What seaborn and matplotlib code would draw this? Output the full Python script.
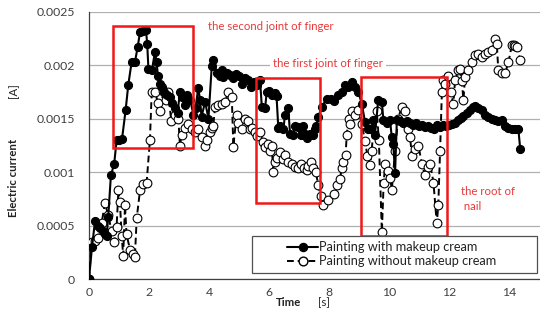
import matplotlib
matplotlib.use("Agg")
import matplotlib.pyplot as plt
import seaborn as sns
import pandas as pd
from matplotlib.patches import Rectangle
from matplotlib.lines import Line2D
from matplotlib.ticker import MultipleLocator

# ---------------- data ----------------
t_with = [0.0, 0.1, 0.2, 0.3, 0.37, 0.45, 0.52, 0.59, 0.64, 0.73, 0.84, 0.92, 1.0, 1.1,
          1.22, 1.31, 1.42, 1.53, 1.62, 1.70, 1.81, 1.90, 1.94, 1.98, 2.10, 2.20, 2.25,
          2.30, 2.37, 2.43, 2.50, 2.60, 2.70, 2.77, 2.87, 2.95, 3.03, 3.10, 3.20, 3.26,
          3.37, 3.48, 3.55, 3.64, 3.70, 3.75, 3.87, 3.98, 4.09, 4.14, 4.26, 4.35, 4.42,
          4.48, 4.60, 4.70, 4.80, 4.90, 5.00, 5.10, 5.20, 5.30, 5.40, 5.50, 5.60, 5.70,
          5.76, 5.87, 5.92, 6.00, 6.10, 6.20, 6.25, 6.31, 6.37, 6.48, 6.53, 6.64, 6.70,
          6.80, 6.87, 6.95, 7.05, 7.12, 7.20, 7.28, 7.35, 7.45, 7.52, 7.58, 7.64, 7.76,
          7.92, 8.05, 8.15, 8.31, 8.42, 8.53, 8.64, 8.76, 8.87, 8.98, 9.09, 9.20, 9.30,
          9.37, 9.48, 9.53, 9.64, 9.76, 9.81, 9.92, 10.03, 10.09, 10.14, 10.20, 10.26,
          10.37, 10.48, 10.59, 10.70, 10.80, 10.90, 11.00, 11.10, 11.20, 11.30, 11.40,
          11.50, 11.60, 11.70, 11.80, 11.90, 12.00, 12.10, 12.20, 12.30, 12.40, 12.48,
          12.59, 12.70, 12.81, 12.87, 12.98, 13.10, 13.20, 13.30, 13.42, 13.53, 13.64,
          13.75, 13.87, 13.98, 14.09, 14.20, 14.31, 14.37]
i_with = [0.0, 0.00030, 0.00054, 0.00050, 0.00048, 0.00045, 0.00042, 0.00040, 0.00058,
          0.00097, 0.00108, 0.00130, 0.00130, 0.00131, 0.00158, 0.00182, 0.00203, 0.00203,
          0.00217, 0.00231, 0.00232, 0.00233, 0.00220, 0.00197, 0.00196, 0.00213, 0.00203,
          0.00190, 0.00183, 0.00180, 0.00175, 0.00172, 0.00170, 0.00165, 0.00160, 0.00155,
          0.00175, 0.00170, 0.00163, 0.00172, 0.00168, 0.00154, 0.00160, 0.00179, 0.00168,
          0.00152, 0.00166, 0.00150, 0.00199, 0.00205, 0.00193, 0.00190, 0.00196, 0.00189,
          0.00193, 0.00191, 0.00188, 0.00192, 0.00190, 0.00183, 0.00188, 0.00186, 0.00180,
          0.00184, 0.00182, 0.00186, 0.00161, 0.00160, 0.00175, 0.00176, 0.00172, 0.00174,
          0.00171, 0.00141, 0.00143, 0.00140, 0.00154, 0.00160, 0.00136, 0.00135, 0.00143,
          0.00142, 0.00135, 0.00143, 0.00136, 0.00132, 0.00136, 0.00135, 0.00140, 0.00143,
          0.00152, 0.00161, 0.00169, 0.00169, 0.00167, 0.00172, 0.00175, 0.00182, 0.00180,
          0.00184, 0.00180, 0.00175, 0.00164, 0.00147, 0.00140, 0.00140, 0.00149, 0.00135,
          0.00168, 0.00166, 0.00149, 0.00146, 0.00149, 0.00133, 0.00126, 0.00099, 0.00149,
          0.00148, 0.00146, 0.00148, 0.00146, 0.00144, 0.00146, 0.00143, 0.00144, 0.00142,
          0.00143, 0.00141, 0.00140, 0.00144, 0.00142, 0.00144, 0.00143, 0.00144, 0.00145,
          0.00146, 0.00149, 0.00151, 0.00153, 0.00155, 0.00158, 0.00161, 0.00162, 0.00160,
          0.00158, 0.00154, 0.00152, 0.00150, 0.00149, 0.00148, 0.00149, 0.00143, 0.00141,
          0.00140, 0.00140, 0.00140, 0.00122]

t_without = [0.0, 0.09, 0.2, 0.31, 0.42, 0.53, 0.64, 0.75, 0.84, 0.92, 0.98, 1.03, 1.09,
             1.14, 1.20, 1.25, 1.37, 1.45, 1.53, 1.59, 1.70, 1.81, 1.92, 2.03, 2.09, 2.20,
             2.30, 2.37, 2.48, 2.58, 2.64, 2.74, 2.87, 2.98, 3.03, 3.09, 3.20, 3.30, 3.42,
             3.52, 3.64, 3.76, 3.87, 3.92, 4.02, 4.09, 4.14, 4.20, 4.31, 4.42, 4.53, 4.64,
             4.76, 4.81, 4.92, 4.98, 5.09, 5.20, 5.31, 5.37, 5.42, 5.52, 5.60, 5.70, 5.81,
             5.87, 5.98, 6.03, 6.09, 6.14, 6.20, 6.26, 6.37, 6.45, 6.53, 6.64, 6.75, 6.85,
             6.95, 7.05, 7.15, 7.25, 7.31, 7.40, 7.48, 7.56, 7.64, 7.72, 7.81, 7.98, 8.15,
             8.26, 8.37, 8.42, 8.48, 8.55, 8.59, 8.65, 8.70, 8.76, 8.87, 8.98, 9.09, 9.20,
             9.28, 9.37, 9.42, 9.48, 9.59, 9.66, 9.76, 9.82, 9.87, 9.98, 10.04, 10.09,
             10.20, 10.30, 10.42, 10.53, 10.64, 10.70, 10.76, 10.87, 10.98, 11.09, 11.20,
             11.30, 11.37, 11.48, 11.59, 11.64, 11.70, 11.76, 11.81, 11.87, 11.95, 12.05,
             12.14, 12.20, 12.31, 12.37, 12.42, 12.48, 12.53, 12.64, 12.76, 12.87, 12.98,
             13.09, 13.20, 13.31, 13.42, 13.53, 13.59, 13.64, 13.76, 13.87, 13.98, 14.09,
             14.15, 14.20, 14.26, 14.37]
i_without = [0.0, 0.00035, 0.00036, 0.00038, 0.00052, 0.00071, 0.00060, 0.00045, 0.00035,
             0.00049, 0.00083, 0.00072, 0.00040, 0.00022, 0.00069, 0.00042, 0.00027,
             0.00023, 0.00021, 0.00057, 0.00083, 0.00089, 0.00090, 0.00130, 0.00175,
             0.00175, 0.00165, 0.00157, 0.00176, 0.00168, 0.00175, 0.00148, 0.00154,
             0.00150, 0.00125, 0.00135, 0.00141, 0.00145, 0.00140, 0.00138, 0.00140,
             0.00133, 0.00125, 0.00130, 0.00138, 0.00141, 0.00143, 0.00161, 0.00163,
             0.00164, 0.00166, 0.00175, 0.00170, 0.00124, 0.00154, 0.00146, 0.00140,
             0.00150, 0.00148, 0.00140, 0.00141, 0.00138, 0.00134, 0.00138, 0.00128,
             0.00124, 0.00126, 0.00120, 0.00125, 0.00100, 0.00110, 0.00113, 0.00119,
             0.00112, 0.00116, 0.00110, 0.00108, 0.00105, 0.00104, 0.00108, 0.00104,
             0.00102, 0.00106, 0.00110, 0.00104, 0.00100, 0.00088, 0.00078, 0.00069,
             0.00074, 0.00080, 0.00088, 0.00094, 0.00104, 0.00110, 0.00116, 0.00135,
             0.00150, 0.00145, 0.00157, 0.00154, 0.00158, 0.00145, 0.00129, 0.00115,
             0.00107, 0.00120, 0.00140, 0.00157, 0.00130, 0.00044, 0.00090, 0.00108,
             0.00101, 0.00095, 0.00083, 0.00120, 0.00150, 0.00161, 0.00157, 0.00140,
             0.00133, 0.00115, 0.00122, 0.00125, 0.00108, 0.00097, 0.00105, 0.00108,
             0.00090, 0.00052, 0.00069, 0.00120, 0.00175, 0.00186, 0.00183, 0.00190,
             0.00175, 0.00164, 0.00186, 0.00196, 0.00197, 0.00185, 0.00168, 0.00189,
             0.00196, 0.00203, 0.00210, 0.00211, 0.00208, 0.00211, 0.00213, 0.00214,
             0.00225, 0.00220, 0.00196, 0.00193, 0.00193, 0.00203, 0.00219, 0.00219,
             0.00218, 0.00217, 0.00205]

series_labels = ["Painting with makeup cream", "Painting without makeup cream"]
x_ticks = [0, 2, 4, 6, 8, 10, 12, 14]
y_ticks = [0, 0.0005, 0.001, 0.0015, 0.002, 0.0025]
y_tick_labels = ["0", "0.0005", "0.001", "0.0015", "0.002", "0.0025"]

# red regions: (t0, t1, i0, i1)
regions = [(0.81, 3.48, 0.00123, 0.00237),
           (5.57, 7.70, 0.00071, 0.00188),
           (9.07, 11.94, 0.00040, 0.00189)]
notes = ["the second joint of finger", "the first joint of finger", "the root of\n nail"]

# ---------------- plot ----------------
sns.set_style("white")
plt.rcParams["font.family"] = ["Lato", "DejaVu Sans"]

fig = plt.figure(figsize=(5.4, 3.2), dpi=100)
ax = fig.add_axes([89 / 540, 41 / 320, 451 / 540, 267 / 320])

df_w = pd.DataFrame({"t": t_with, "i": i_with})
df_wo = pd.DataFrame({"t": t_without, "i": i_without})

sns.lineplot(data=df_wo, x="t", y="i", ax=ax, sort=False, estimator=None,
             color="black", linestyle=(0, (3.5, 2)), linewidth=1.4,
             marker="o", markersize=6.3, markerfacecolor="white",
             markeredgecolor="black", markeredgewidth=0.8, zorder=3)
sns.lineplot(data=df_w, x="t", y="i", ax=ax, sort=False, estimator=None,
             color="black", linewidth=1.5,
             marker="o", markersize=5.8, markerfacecolor="black",
             markeredgecolor="black", markeredgewidth=0.8, zorder=4)

ax.set_xlim(0, 15.03)
ax.set_ylim(0, 0.0025)
ax.set_xticks(x_ticks)
ax.set_xticklabels([str(v) for v in x_ticks])
ax.set_yticks(y_ticks)
ax.set_yticklabels(y_tick_labels)
ax.xaxis.set_minor_locator(MultipleLocator(0.4))
ax.yaxis.set_minor_locator(MultipleLocator(0.0001))
ax.tick_params(axis="x", which="major", direction="out", length=3, width=0.8,
               color="#404040", labelsize=8.8, labelcolor="#404040", pad=3)
ax.tick_params(axis="x", which="minor", direction="out", length=2.5, width=0.8, color="#404040")
ax.tick_params(axis="y", which="major", direction="in", length=3, width=0.8,
               color="#404040", labelsize=8.8, labelcolor="#404040", pad=10)
ax.tick_params(axis="y", which="minor", direction="in", length=2.5, width=0.8, color="#404040")

ax.grid(axis="y", color="#b0b0b0", linewidth=0.9)
ax.set_axisbelow(True)
for s in ["top", "right"]:
    ax.spines[s].set_visible(False)
for s in ["left", "bottom"]:
    ax.spines[s].set_color("#404040")
    ax.spines[s].set_linewidth(0.9)
ax.set_xlabel("")
ax.set_ylabel("")

red = "#f01818"
for (a0, a1, b0, b1) in regions:
    ax.add_patch(Rectangle((a0, b0), a1 - a0, b1 - b0, fill=False,
                           edgecolor=red, linewidth=1.8, zorder=5))

txt_red = "#e83a3a"
ax.text(3.97, 0.00236, notes[0], color=txt_red, fontsize=8.2, va="center", ha="left", zorder=2)
ax.text(6.13, 0.00202, notes[1], color=txt_red, fontsize=8.2, va="center", ha="left", zorder=2,
        bbox=dict(facecolor="white", edgecolor="none", pad=2))
ax.text(12.4, 0.00075, notes[2], color=txt_red, fontsize=8.2, va="center", ha="left",
        linespacing=1.5, zorder=2)

# legend
handles = [Line2D([], [], color="black", linewidth=1.5, marker="o", markersize=5.8,
                  markerfacecolor="black", markeredgecolor="black"),
           Line2D([], [], color="black", linestyle=(0, (3.5, 2)), linewidth=1.4, marker="o",
                  markersize=6.3, markerfacecolor="white", markeredgecolor="black")]
ax.add_patch(Rectangle((0.361, 0.0225), 0.632, 0.139, transform=ax.transAxes, fill=True,
                       facecolor="white", edgecolor="#505050", linewidth=0.9, zorder=6))
leg = ax.legend(handles, series_labels, loc="center left",
                bbox_to_anchor=(0.42, 0.092), frameon=False, fontsize=9.2,
                handlelength=2.4, handletextpad=0.1, labelspacing=0.15, borderpad=0.2,
                labelcolor="#222222")
leg.set_zorder(7)

# axis labels
fig.text(14 / 540, 1 - 178 / 320, "Electric current", rotation=90, fontsize=8.2,
         fontweight="bold", ha="center", va="center", color="#222222")
fig.text(14 / 540, 1 - 91 / 320, "[A]", rotation=90, fontsize=8.2,
         ha="center", va="center", color="#222222")
fig.text(288 / 540, 1 - 303 / 320, "Time", fontsize=8.2, fontweight="bold",
         ha="center", va="center", color="#222222")
fig.text(324 / 540, 1 - 303 / 320, "[s]", fontsize=8.2, ha="center", va="center",
         color="#222222")

fig.savefig("out.png", dpi=100)
